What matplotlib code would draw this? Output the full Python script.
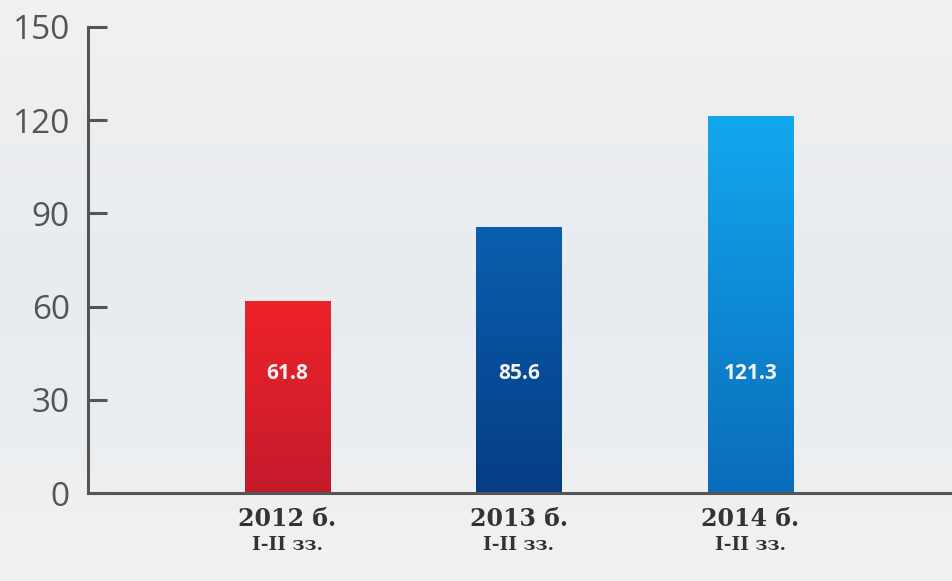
import numpy as np
import matplotlib.pyplot as plt
from matplotlib.colors import LinearSegmentedColormap

# data
years = ['2012 б.', '2013 б.', '2014 б.']
periods = ['I-II зз.', 'I-II зз.', 'I-II зз.']
values = [61.8, 85.6, 121.3]
bar_grad = [('#ee2228', '#c41b2c'), ('#0a5fae', '#053c85'), ('#13a8ee', '#0a6cbb')]

fig = plt.figure(figsize=(9.52, 5.81), dpi=100)

# background gradient
bg = fig.add_axes([0, 0, 1, 1], zorder=-10)
bg_cmap = LinearSegmentedColormap.from_list('bg', [(0, '#f1f1f1'), (0.45, '#e8ecf0'), (0.7, '#eaedf0'), (1, '#f2f2f2')])
bg.imshow(np.linspace(0, 1, 256).reshape(-1, 1), cmap=bg_cmap, aspect='auto', extent=[0, 1, 0, 1])
bg.axis('off')

ax = fig.add_axes([88 / 952, 1 - 493 / 581, 1 - 88 / 952, (493 - 27) / 581])
ax.patch.set_alpha(0)

x = np.arange(len(values))
bars = ax.bar(x, values, width=0.367, color='none', edgecolor='none')
for b, (c_top, c_bot) in zip(bars, bar_grad):
    cm = LinearSegmentedColormap.from_list('g', [c_top, c_bot])
    x0, y0 = b.get_x(), b.get_y()
    im = ax.imshow(np.linspace(0, 1, 256).reshape(-1, 1), cmap=cm, aspect='auto',
                   extent=[x0, x0 + b.get_width(), y0, y0 + b.get_height()], zorder=2)
    im.set_clip_path(b)

for xi, v in zip(x, values):
    ax.text(xi, 38.5, f'{v:.1f}', ha='center', va='center', color='#f4f4f4',
            fontsize=15, fontweight='bold', family=['Open Sans', 'DejaVu Sans'], zorder=3)

ax.set_xlim(-0.86, 2.87)
ax.set_ylim(0, 150)
ax.set_yticks([0, 30, 60, 90, 120, 150])
ax.tick_params(axis='y', direction='in', length=14, width=2.2, color='#555555',
               labelsize=24, labelcolor='#555555', pad=13)
for lbl in ax.get_yticklabels():
    lbl.set_family(['Open Sans', 'DejaVu Sans'])

ax.set_xticks([])
for xi, yr, pr in zip(x, years, periods):
    ax.text(xi, -8.3, yr, ha='center', va='center', fontsize=17, fontweight='bold',
            color='#333333', family=['DejaVu Serif'])
    ax.text(xi, -16.8, pr, ha='center', va='center', fontsize=13.5, fontweight='semibold',
            color='#333333', family=['DejaVu Serif'])

for s in ['top', 'right']:
    ax.spines[s].set_visible(False)
for s in ['left', 'bottom']:
    ax.spines[s].set_color('#555555')
    ax.spines[s].set_linewidth(2.2)

fig.savefig('out.png', dpi=100)
